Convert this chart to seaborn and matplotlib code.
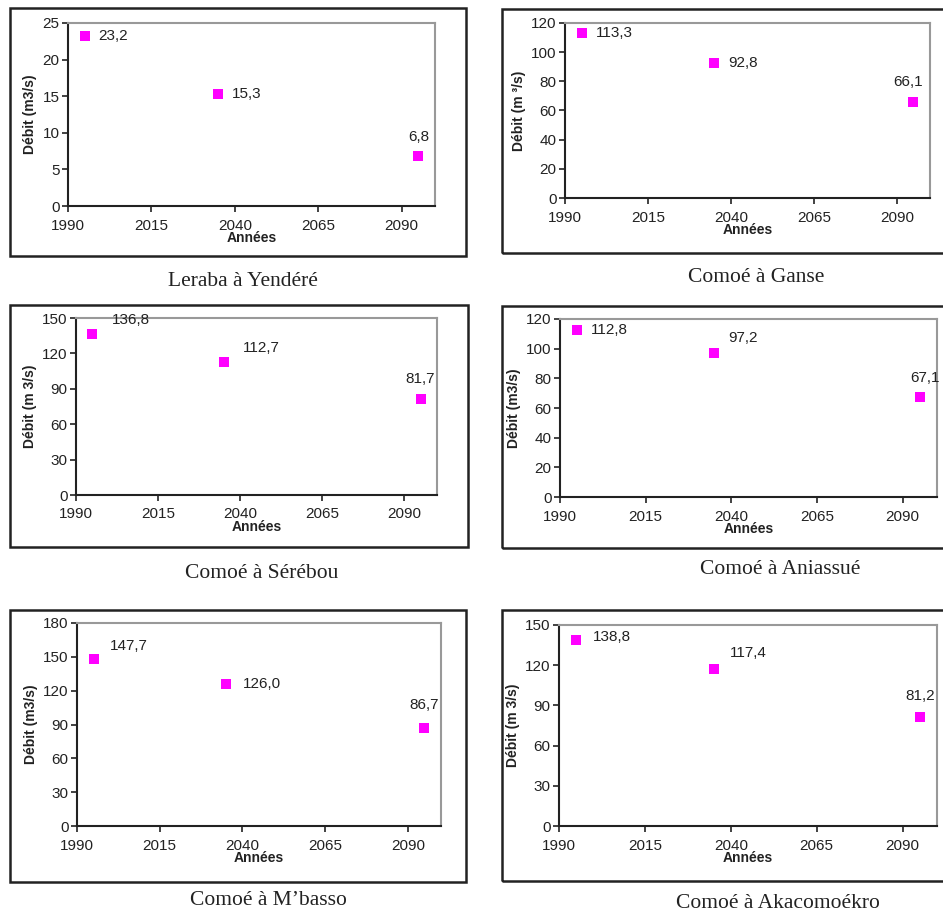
import numpy as np
import pandas as pd
import matplotlib
matplotlib.use("Agg")
import matplotlib.pyplot as plt
from matplotlib.patches import Rectangle
import seaborn as sns

# Data
years = [1995, 2035, 2095]
stations = ["Leraba à Yendéré", "Comoé à Ganse", "Comoé à Sérébou",
            "Comoé à Aniassué", "Comoé à M\u2019basso", "Comoé à Akacomoékro"]
leraba_yendere = [23.2, 15.3, 6.8]
comoe_ganse = [113.3, 92.8, 66.1]
comoe_serebou = [136.8, 112.7, 81.7]
comoe_aniassue = [112.8, 97.2, 67.1]
comoe_mbasso = [147.7, 126.0, 86.7]
comoe_akacomoekro = [138.8, 117.4, 81.2]
series = [leraba_yendere, comoe_ganse, comoe_serebou,
          comoe_aniassue, comoe_mbasso, comoe_akacomoekro]
y_max = [25, 120, 150, 120, 180, 150]
y_step = [5, 20, 30, 20, 30, 30]
x_ticks = [1990, 2015, 2040, 2065, 2090]
y_labels = ["Débit (m3/s)", "Débit (m ³/s)", "Débit (m 3/s)",
            "Débit (m3/s)", "Débit (m3/s)", "Débit (m 3/s)"]

sns.set_theme(style="white")
plt.rcParams['font.family'] = ['Liberation Sans', 'DejaVu Sans']

W, H = 943, 913
fig = plt.figure(figsize=(W / 100, H / 100), dpi=100)
fig.patch.set_facecolor("white")

# layout in pixels: frame (x0, y0, x1, y1), axes (left, top, right, bottom), caption (x, y)
frames = [(10, 8, 466, 256), (502, 9, 950, 253),
          (10, 305, 468, 547), (502, 306, 950, 548),
          (10, 610, 466, 882), (502, 610, 950, 881)]
axes_px = [(68, 23, 435, 206), (565, 23, 930, 198),
           (76, 318, 437, 495), (560, 319, 937, 497),
           (77, 623, 441, 826), (559, 625, 937, 826)]
captions = [(243, 282), (756, 277), (262, 573), (780, 570), (268, 900), (778, 903)]

# label offsets (points) for each value
offsets = [
    [(10, 0, "left"), (10, 0, "left"), (0, 14, "center")],
    [(10, 0, "left"), (10, 0, "left"), (-4, 14, "center")],
    [(14, 10, "left"), (14, 10, "left"), (0, 14, "center")],
    [(10, 0, "left"), (10, 11, "left"), (4, 14, "center")],
    [(12, 10, "left"), (12, 0, "left"), (0, 17, "center")],
    [(12, 2, "left"), (12, 11, "left"), (0, 15, "center")],
]

for i in range(6):
    fx0, fy0, fx1, fy1 = frames[i]
    fig.patches.append(Rectangle((fx0 / W, 1 - fy1 / H), (fx1 - fx0) / W, (fy1 - fy0) / H,
                                 transform=fig.transFigure, fill=False,
                                 edgecolor="#222222", linewidth=1.8))
    l, t, r, b = axes_px[i]
    ax = fig.add_axes([l / W, 1 - b / H, (r - l) / W, (b - t) / H])
    df = pd.DataFrame({"Années": years, "Débit": series[i]})
    sns.scatterplot(data=df, x="Années", y="Débit", marker="s", s=45,
                    color="#ff00ff", edgecolor="#ff00ff", linewidth=0, ax=ax)
    for (xv, yv), (dx, dy, ha) in zip(zip(years, series[i]), offsets[i]):
        ax.annotate(f"{yv:.1f}".replace(".", ","), (xv, yv), xytext=(dx, dy),
                    textcoords="offset points", ha=ha, va="center",
                    fontsize=11, color="#222222")
    ax.set_xlim(1990, 2100)
    ax.set_ylim(0, y_max[i])
    ax.set_xticks(x_ticks)
    ax.set_yticks(np.arange(0, y_max[i] + 1, y_step[i]))
    ax.tick_params(axis="both", direction="out", length=4, width=1.2,
                   color="#222222", labelsize=11, labelcolor="#222222", pad=2)
    ax.tick_params(axis="x", bottom=True, pad=5)
    ax.tick_params(axis="y", left=True)
    ax.set_xlabel("Années", fontsize=10, fontweight="bold", labelpad=-1, color="#222222")
    ax.set_ylabel(y_labels[i], fontsize=10, fontweight="bold", labelpad=4, color="#222222")
    for side in ["left", "bottom"]:
        ax.spines[side].set_color("#222222")
        ax.spines[side].set_linewidth(1.5)
    for side in ["top", "right"]:
        ax.spines[side].set_color("#999999")
        ax.spines[side].set_linewidth(1.5)
    ax.grid(False)
    cx, cy = captions[i]
    fig.text(cx / W, 1 - cy / H, stations[i], ha="center", va="center",
             fontsize=15.5, family=["Liberation Serif", "DejaVu Serif"], color="#222222")

fig.savefig("out.png", dpi=100)
